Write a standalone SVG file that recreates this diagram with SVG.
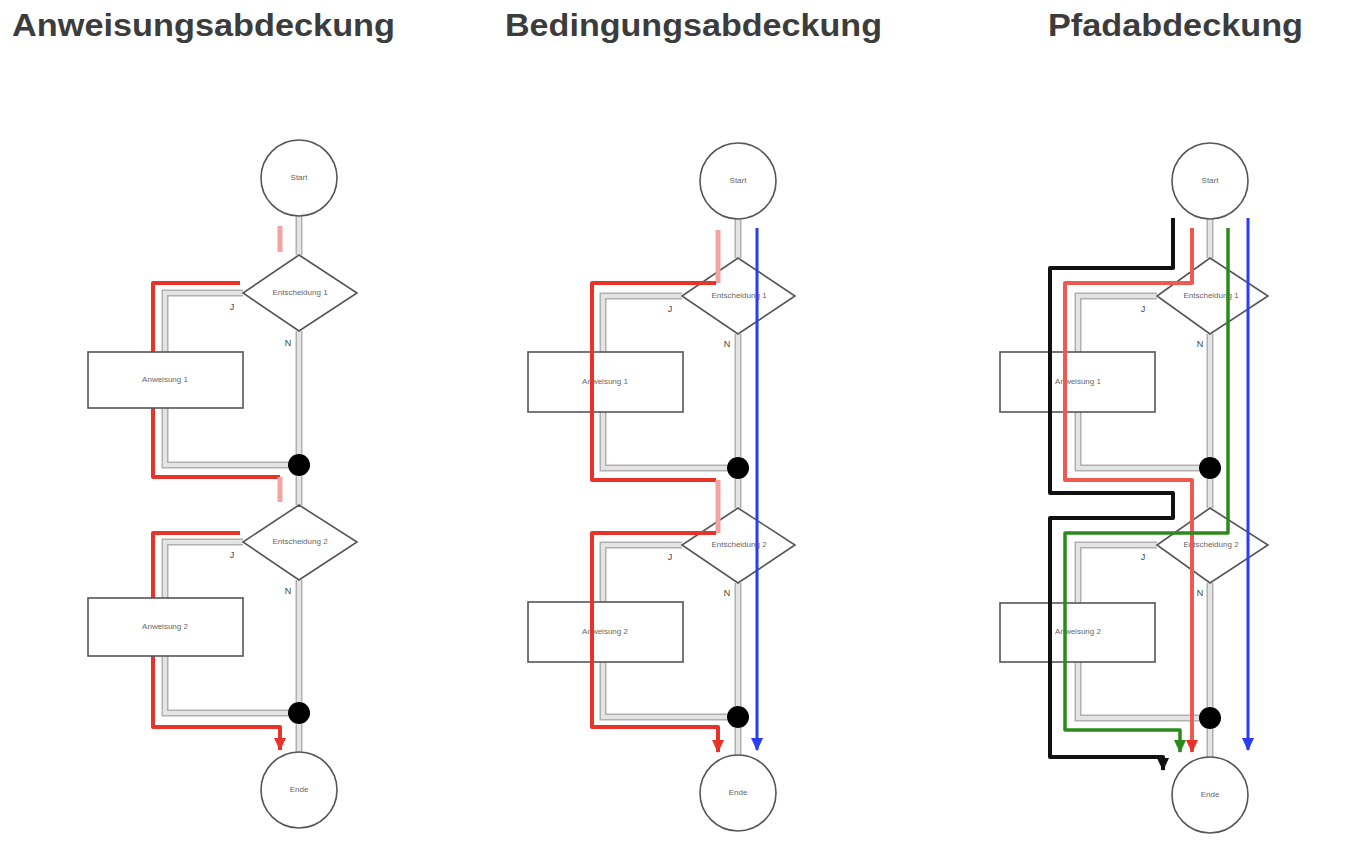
<svg xmlns="http://www.w3.org/2000/svg" width="1361" height="847" viewBox="0 0 1361 847">
<style>
.title{font-family:"Liberation Sans",Arial,sans-serif;font-weight:bold;font-size:31px;fill:#3c3c3c}
.node{fill:#fff;stroke:#555;stroke-width:1.6}
.dot{fill:#000}
.lbl{font-family:"Liberation Sans",Arial,sans-serif;font-size:8px;fill:#666;text-anchor:middle;dominant-baseline:middle}
.yn{font-family:"Liberation Sans",Arial,sans-serif;font-size:9px;fill:#444;text-anchor:middle}
.g1{fill:none;stroke:#b0b0b0;stroke-width:7}
.g2{fill:none;stroke:#e4e4e4;stroke-width:4}
.red{fill:none;stroke:#e8332a;stroke-width:4;stroke-linejoin:round}
.redl{fill:none;stroke:#f3a3a0;stroke-width:5}
.red3{fill:none;stroke:#ee5a52;stroke-width:4;stroke-linejoin:round}
.blue{fill:none;stroke:#2a3cf5;stroke-width:3}
.green{fill:none;stroke:#2c8a1c;stroke-width:3.5;stroke-linejoin:round}
.black{fill:none;stroke:#111;stroke-width:4;stroke-linejoin:round}
</style>
<defs>
<marker id="mr" markerUnits="userSpaceOnUse" markerWidth="14" markerHeight="14" refX="7" refY="12" viewBox="0 0 14 14"><path d="M1,0 L13,0 L7,13 Z" fill="#e8332a"/></marker>
<marker id="mb" markerUnits="userSpaceOnUse" markerWidth="14" markerHeight="14" refX="7" refY="12" viewBox="0 0 14 14"><path d="M1,0 L13,0 L7,13 Z" fill="#2a3cf5"/></marker>
<marker id="mg" markerUnits="userSpaceOnUse" markerWidth="14" markerHeight="14" refX="7" refY="12" viewBox="0 0 14 14"><path d="M1,0 L13,0 L7,13 Z" fill="#2c8a1c"/></marker>
<marker id="mk" markerUnits="userSpaceOnUse" markerWidth="14" markerHeight="14" refX="7" refY="12" viewBox="0 0 14 14"><path d="M1,0 L13,0 L7,13 Z" fill="#111"/></marker>
</defs>
<rect width="1361" height="847" fill="#fff"/>

<g id="titles">
<text class="title" x="12" y="36" textLength="383" lengthAdjust="spacingAndGlyphs">Anweisungsabdeckung</text>
<text class="title" x="505" y="36" textLength="377" lengthAdjust="spacingAndGlyphs">Bedingungsabdeckung</text>
<text class="title" x="1048" y="36" textLength="255" lengthAdjust="spacingAndGlyphs">Pfadabdeckung</text>
</g>

<!-- ===== Panel 1 ===== -->
<g id="p1-connectors">
<g>
<path class="g1" d="M299,216V255M243,293H165V352M165,408V465H288M299,331V454M299,476V505M243,542H165V598M165,656V713H288M299,580V702M299,724V752"/>
<path class="g2" d="M299,216V255M243,293H165V352M165,408V465H288M299,331V454M299,476V505M243,542H165V598M165,656V713H288M299,580V702M299,724V752"/>
</g>
<path class="redl" d="M280,226V252"/>
<path class="red" d="M240,283H153V477H280"/>
<path class="redl" d="M280,477V502"/>
<path class="red" d="M240,533H153V727H280V750" marker-end="url(#mr)"/>
<text class="yn" x="232" y="310">J</text>
<text class="yn" x="288" y="346">N</text>
<text class="yn" x="232" y="558">J</text>
<text class="yn" x="288" y="594">N</text>
</g>
<g id="p1-start"><circle class="node" cx="299" cy="178" r="38"/><text class="lbl" x="299" y="178">Start</text></g>
<g id="p1-dec1"><polygon class="node" points="299,255 357,293 299,331 243,293"/><text class="lbl" x="300" y="293">Entscheidung 1</text></g>
<g id="p1-act1"><rect class="node" x="88" y="352" width="155" height="56"/><text class="lbl" x="165" y="380">Anweisung 1</text></g>
<g id="p1-join1"><circle class="dot" cx="299" cy="465" r="11"/></g>
<g id="p1-dec2"><polygon class="node" points="299,505 357,542 299,580 243,542"/><text class="lbl" x="300" y="542">Entscheidung 2</text></g>
<g id="p1-act2"><rect class="node" x="88" y="598" width="155" height="58"/><text class="lbl" x="165" y="627">Anweisung 2</text></g>
<g id="p1-join2"><circle class="dot" cx="299" cy="713" r="11"/></g>
<g id="p1-end"><circle class="node" cx="299" cy="790" r="38"/><text class="lbl" x="299" y="790">Ende</text></g>

<!-- ===== Panel 2 ===== -->
<g id="p2-gray">
<path class="g1" d="M738,219V258M682,296H603V352M603,412V468H727M738,334V457M738,479V508M682,545H603V602M603,662V717H727M738,583V706M738,728V755"/>
<path class="g2" d="M738,219V258M682,296H603V352M603,412V468H727M738,334V457M738,479V508M682,545H603V602M603,662V717H727M738,583V706M738,728V755"/>
</g>
<g id="p2-start"><circle class="node" cx="738" cy="181" r="38"/><text class="lbl" x="738" y="181">Start</text></g>
<g id="p2-dec1"><polygon class="node" points="738,258 795,296 738,334 682,296"/><text class="lbl" x="739" y="296">Entscheidung 1</text></g>
<g id="p2-act1"><rect class="node" x="528" y="352" width="155" height="60"/><text class="lbl" x="605" y="382">Anweisung 1</text></g>
<g id="p2-join1"><circle class="dot" cx="738" cy="468" r="11"/></g>
<g id="p2-dec2"><polygon class="node" points="738,508 795,545 738,583 682,545"/><text class="lbl" x="739" y="545">Entscheidung 2</text></g>
<g id="p2-act2"><rect class="node" x="528" y="602" width="155" height="60"/><text class="lbl" x="605" y="632">Anweisung 2</text></g>
<g id="p2-join2"><circle class="dot" cx="738" cy="717" r="11"/></g>
<g id="p2-end"><circle class="node" cx="738" cy="793" r="38"/><text class="lbl" x="738" y="793">Ende</text></g>
<g id="p2-connectors">
<path class="redl" d="M718,230V283"/>
<path class="red" d="M716,283H592V480H716"/>
<path class="redl" d="M718,480V533"/>
<path class="red" d="M716,533H592V727H718V752" marker-end="url(#mr)"/>
<path class="blue" d="M757,228V750" marker-end="url(#mb)"/>
<text class="yn" x="670" y="312">J</text>
<text class="yn" x="727" y="347">N</text>
<text class="yn" x="670" y="560">J</text>
<text class="yn" x="727" y="596">N</text>
</g>

<!-- ===== Panel 3 ===== -->
<g id="p3-gray">
<path class="g1" d="M1210,219V258M1157,296H1078V352M1078,412V468H1199M1210,334V457M1210,479V508M1157,545H1078V603M1078,662V718H1199M1210,583V707M1210,729V757"/>
<path class="g2" d="M1210,219V258M1157,296H1078V352M1078,412V468H1199M1210,334V457M1210,479V508M1157,545H1078V603M1078,662V718H1199M1210,583V707M1210,729V757"/>
</g>
<g id="p3-start"><circle class="node" cx="1210" cy="181" r="38"/><text class="lbl" x="1210" y="181">Start</text></g>
<g id="p3-dec1"><polygon class="node" points="1210,258 1268,296 1210,334 1157,296"/><text class="lbl" x="1211" y="296">Entscheidung 1</text></g>
<g id="p3-act1"><rect class="node" x="1000" y="352" width="155" height="60"/><text class="lbl" x="1078" y="382">Anweisung 1</text></g>
<g id="p3-join1"><circle class="dot" cx="1210" cy="468" r="11"/></g>
<g id="p3-dec2"><polygon class="node" points="1210,508 1268,545 1210,583 1157,545"/><text class="lbl" x="1211" y="545">Entscheidung 2</text></g>
<g id="p3-act2"><rect class="node" x="1000" y="603" width="155" height="59"/><text class="lbl" x="1078" y="632">Anweisung 2</text></g>
<g id="p3-join2"><circle class="dot" cx="1210" cy="718" r="11"/></g>
<g id="p3-end"><circle class="node" cx="1210" cy="795" r="38"/><text class="lbl" x="1210" y="795">Ende</text></g>
<g id="p3-connectors">
<path class="black" d="M1173,218V268H1050V493H1173V518H1050V757H1163V770" marker-end="url(#mk)"/>
<path class="red3" d="M1192,228V283H1065V480H1192V752" marker-end="url(#mr)"/>
<path class="green" d="M1228,228V533H1065V730H1180V752" marker-end="url(#mg)"/>
<path class="blue" d="M1248,218V750" marker-end="url(#mb)"/>
<text class="yn" x="1143" y="312">J</text>
<text class="yn" x="1200" y="347">N</text>
<text class="yn" x="1143" y="560">J</text>
<text class="yn" x="1200" y="596">N</text>
</g>
</svg>
